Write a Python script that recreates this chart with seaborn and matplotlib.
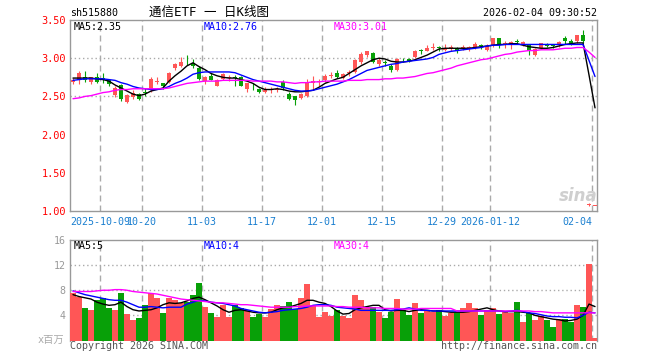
import numpy as np
import matplotlib
matplotlib.use("Agg")
import matplotlib.pyplot as plt
import seaborn as sns

# ---- values (one entry per trading day) ----
tick_days = [5, 12, 22, 32, 42, 52, 62, 70, 87]
tick_labels = ['2025-10-09', '10-20', '11-03', '11-17', '12-01',
               '12-15', '12-29', '2026-01-12', '02-04']

opens = [2.69, 2.71, 2.76, 2.69, 2.75, 2.74, 2.72, 2.52, 2.65, 2.43,
         2.49, 2.53, 2.56, 2.59, 2.69, 2.67, 2.69, 2.87, 2.90, 2.98,
         2.94, 2.87, 2.70, 2.77, 2.64, 2.73, 2.74, 2.76, 2.76, 2.60,
         2.64, 2.60, 2.56, 2.58, 2.58, 2.69, 2.53, 2.50, 2.48, 2.51,
         2.68, 2.69, 2.72, 2.77, 2.80, 2.74, 2.81, 2.82, 2.95, 3.04,
         3.07, 2.92, 2.95, 2.90, 2.84, 2.98, 2.99, 3.01, 3.11, 3.10,
         3.14, 3.14, 3.11, 3.14, 3.13, 3.13, 3.13, 3.14, 3.17, 3.11,
         3.17, 3.26, 3.17, 3.17, 3.22, 3.17, 3.17, 3.04, 3.14, 3.19,
         3.16, 3.17, 3.26, 3.22, 3.22, 3.31, 1.08, 1.07]
closes = [2.72, 2.80, 2.72, 2.75, 2.69, 2.71, 2.66, 2.61, 2.46, 2.52,
          2.54, 2.47, 2.54, 2.73, 2.70, 2.63, 2.80, 2.93, 2.95, 2.97,
          2.90, 2.73, 2.76, 2.72, 2.72, 2.79, 2.75, 2.74, 2.64, 2.67,
          2.63, 2.56, 2.59, 2.59, 2.59, 2.61, 2.47, 2.45, 2.53, 2.67,
          2.70, 2.70, 2.77, 2.78, 2.75, 2.79, 2.82, 2.97, 3.06, 3.09,
          2.95, 2.98, 2.94, 2.84, 2.99, 2.97, 2.96, 3.10, 3.10, 3.14,
          3.15, 3.13, 3.14, 3.14, 3.09, 3.14, 3.14, 3.19, 3.16, 3.16,
          3.26, 3.17, 3.20, 3.21, 3.21, 3.21, 3.09, 3.12, 3.20, 3.16,
          3.155, 3.21, 3.22, 3.19, 3.30, 3.22, 1.09, 1.07]
highs = [2.74, 2.83, 2.83, 2.76, 2.81, 2.80, 2.73, 2.63, 2.66, 2.53,
         2.58, 2.54, 2.61, 2.75, 2.75, 2.68, 2.82, 2.94, 3.02, 3.04,
         2.99, 2.90, 2.77, 2.81, 2.73, 2.81, 2.78, 2.78, 2.77, 2.68,
         2.67, 2.61, 2.62, 2.62, 2.62, 2.71, 2.56, 2.51, 2.55, 2.73,
         2.77, 2.73, 2.79, 2.82, 2.85, 2.80, 2.84, 2.99, 3.08, 3.10,
         3.08, 3.00, 2.97, 2.92, 3.00, 3.00, 3.00, 3.11, 3.12, 3.17,
         3.20, 3.16, 3.19, 3.17, 3.15, 3.17, 3.16, 3.21, 3.19, 3.19,
         3.27, 3.27, 3.22, 3.22, 3.25, 3.22, 3.18, 3.13, 3.20, 3.20,
         3.17, 3.22, 3.29, 3.25, 3.31, 3.37, 1.10, 1.07]
lows = [2.66, 2.66, 2.69, 2.66, 2.68, 2.67, 2.64, 2.49, 2.44, 2.42,
        2.47, 2.45, 2.51, 2.56, 2.66, 2.60, 2.68, 2.85, 2.88, 2.91,
        2.87, 2.72, 2.66, 2.71, 2.63, 2.71, 2.70, 2.63, 2.63, 2.56,
        2.59, 2.55, 2.55, 2.54, 2.56, 2.58, 2.45, 2.39, 2.46, 2.49,
        2.58, 2.64, 2.69, 2.74, 2.74, 2.73, 2.77, 2.80, 2.93, 3.02,
        2.94, 2.90, 2.90, 2.82, 2.83, 2.95, 2.95, 3.00, 3.06, 3.09,
        3.11, 3.09, 3.09, 3.09, 3.07, 3.11, 3.09, 3.12, 3.12, 3.09,
        3.15, 3.14, 3.14, 3.12, 3.19, 3.16, 3.04, 3.03, 3.12, 3.15,
        3.13, 3.15, 3.19, 3.17, 3.20, 3.20, 1.06, 1.07]

ma5 = [2.74, 2.74, 2.74, 2.74, 2.73, 2.72, 2.70, 2.65, 2.61, 2.57,
       2.53, 2.51, 2.53, 2.57, 2.59, 2.61, 2.70, 2.77, 2.83, 2.90,
       2.94, 2.89, 2.85, 2.80, 2.77, 2.75, 2.74, 2.74, 2.72, 2.70,
       2.67, 2.62, 2.59, 2.59, 2.60, 2.59, 2.57, 2.56, 2.56, 2.57,
       2.58, 2.62, 2.67, 2.70, 2.73, 2.75, 2.80, 2.85, 2.90, 2.94,
       2.98, 3.00, 2.99, 2.96, 2.95, 2.95, 2.96, 2.98, 3.01, 3.04,
       3.08, 3.12, 3.13, 3.13, 3.13, 3.13, 3.13, 3.14, 3.15, 3.16,
       3.17, 3.18, 3.18, 3.19, 3.19, 3.17, 3.15, 3.14, 3.13, 3.13,
       3.14, 3.16, 3.18, 3.19, 3.20, 3.20, 2.78, 2.35]
ma10 = [2.71, 2.72, 2.73, 2.73, 2.73, 2.73, 2.72, 2.71, 2.68, 2.66,
        2.63, 2.61, 2.60, 2.59, 2.59, 2.60, 2.63, 2.67, 2.70, 2.74,
        2.79, 2.81, 2.82, 2.82, 2.82, 2.82, 2.82, 2.81, 2.78, 2.75,
        2.72, 2.70, 2.68, 2.66, 2.64, 2.62, 2.60, 2.58, 2.57, 2.57,
        2.58, 2.60, 2.62, 2.64, 2.66, 2.69, 2.72, 2.76, 2.80, 2.84,
        2.86, 2.88, 2.90, 2.92, 2.93, 2.95, 2.96, 2.97, 2.98, 2.99,
        3.01, 3.05, 3.07, 3.09, 3.10, 3.11, 3.12, 3.13, 3.14, 3.16,
        3.17, 3.17, 3.18, 3.18, 3.18, 3.18, 3.18, 3.18, 3.18, 3.18,
        3.18, 3.18, 3.18, 3.18, 3.18, 3.18, 2.97, 2.76]
ma30 = [2.47, 2.48, 2.50, 2.51, 2.53, 2.55, 2.56, 2.58, 2.59, 2.59,
        2.60, 2.60, 2.60, 2.60, 2.60, 2.60, 2.61, 2.63, 2.65, 2.67,
        2.68, 2.69, 2.70, 2.70, 2.70, 2.71, 2.71, 2.71, 2.71, 2.71,
        2.70, 2.70, 2.70, 2.70, 2.69, 2.69, 2.68, 2.67, 2.68, 2.68,
        2.69, 2.69, 2.70, 2.70, 2.70, 2.70, 2.71, 2.71, 2.71, 2.72,
        2.72, 2.72, 2.73, 2.73, 2.74, 2.74, 2.75, 2.76, 2.78, 2.80,
        2.81, 2.83, 2.85, 2.87, 2.90, 2.92, 2.94, 2.96, 2.98, 2.99,
        3.01, 3.03, 3.05, 3.06, 3.08, 3.09, 3.10, 3.10, 3.11, 3.11,
        3.11, 3.12, 3.13, 3.13, 3.14, 3.14, 3.08, 3.01]

volumes = [7.6, 6.9, 5.1, 4.8, 6.4, 6.8, 5.2, 4.9, 7.6, 4.2,
           3.2, 3.6, 5.6, 7.5, 6.7, 4.3, 6.7, 6.5, 5.9, 6.1,
           7.2, 9.1, 5.4, 4.3, 3.7, 5.6, 3.8, 5.6, 5.1, 4.9,
           3.8, 4.2, 3.8, 5.0, 5.7, 5.5, 6.2, 5.0, 6.8, 9.0,
           5.5, 3.7, 4.6, 3.9, 4.8, 3.9, 3.6, 7.2, 6.4, 5.4,
           5.3, 4.6, 3.6, 4.5, 6.6, 4.8, 4.0, 6.0, 4.4, 4.8,
           4.5, 4.8, 3.9, 4.4, 4.4, 5.2, 6.0, 5.2, 4.0, 4.8,
           5.2, 4.2, 4.6, 4.4, 6.1, 3.0, 4.4, 3.2, 3.9, 3.2,
           2.1, 3.5, 3.5, 3.0, 5.6, 5.4, 12.2, 0.4]
vma5 = [7.3, 7.0, 6.8, 6.6, 6.1, 5.8, 5.6, 5.7, 6.1, 5.4,
        4.9, 4.7, 4.8, 4.9, 5.2, 5.7, 6.0, 5.9, 6.0, 6.3,
        6.7, 6.9, 6.5, 6.0, 5.5, 4.9, 4.5, 4.8, 4.9, 4.7,
        4.5, 4.4, 4.4, 4.5, 4.9, 5.2, 5.3, 5.6, 5.9, 6.4,
        6.4, 6.1, 5.9, 5.4, 4.7, 4.2, 4.3, 4.9, 5.2, 5.4,
        5.6, 5.6, 4.9, 4.7, 4.8, 4.8, 4.6, 4.8, 4.9, 4.8,
        4.7, 4.7, 4.6, 4.5, 4.5, 4.5, 4.6, 4.8, 5.0, 5.2,
        4.9, 4.7, 4.6, 4.6, 4.6, 4.5, 4.4, 4.0, 3.8, 3.6,
        3.4, 3.3, 3.1, 3.2, 3.4, 4.0, 5.8, 5.4]
vma10 = [7.9, 7.6, 7.3, 7.1, 6.9, 6.7, 6.5, 6.4, 6.4, 6.1,
         5.7, 5.3, 5.3, 5.4, 5.3, 5.2, 5.3, 5.3, 5.3, 5.8,
         6.1, 6.4, 6.3, 6.1, 6.0, 5.9, 5.7, 5.5, 5.1, 4.9,
         4.7, 4.5, 4.4, 4.5, 4.6, 4.8, 4.9, 5.0, 5.1, 5.3,
         5.6, 5.7, 5.7, 5.6, 5.3, 5.2, 5.1, 5.0, 4.8, 4.8,
         4.8, 4.8, 4.8, 4.8, 4.9, 5.0, 5.2, 5.0, 4.8, 4.8,
         4.7, 4.7, 4.7, 4.7, 4.7, 4.7, 4.7, 4.7, 4.7, 4.7,
         4.7, 4.7, 4.6, 4.7, 4.8, 4.6, 4.4, 4.3, 4.1, 3.9,
         3.8, 3.8, 3.7, 3.7, 3.6, 4.0, 4.5, 4.4]
vma30 = [7.8, 7.8, 7.8, 7.8, 7.9, 8.0, 8.0, 8.1, 8.1, 8.0,
         7.8, 7.7, 7.6, 7.5, 7.4, 7.2, 7.0, 6.8, 6.6, 6.5,
         6.4, 6.3, 6.2, 6.1, 6.0, 6.0, 5.9, 5.8, 5.7, 5.7,
         5.6, 5.5, 5.4, 5.3, 5.3, 5.3, 5.3, 5.4, 5.4, 5.5,
         5.5, 5.5, 5.5, 5.5, 5.4, 5.4, 5.3, 5.3, 5.3, 5.2,
         5.2, 5.2, 5.1, 5.1, 5.1, 5.0, 5.0, 5.0, 5.1, 5.1,
         5.1, 5.1, 5.1, 5.1, 4.7, 4.7, 4.7, 4.7, 4.7, 4.7,
         4.7, 4.7, 4.7, 4.7, 4.7, 4.7, 4.7, 4.6, 4.6, 4.5,
         4.4, 4.4, 4.4, 4.4, 4.4, 4.4, 4.4, 4.4]

RED = '#ff5656'
GREEN = '#08a008'
GRID = '#aaaaaa'
FRAME = '#999999'

sns.set_style("white")
plt.rcParams['font.family'] = ['DejaVu Sans Mono', 'Noto Sans CJK SC']
plt.rcParams['font.size'] = 7.2

W, H = 660, 360
fig = plt.figure(figsize=(6.6, 3.6), dpi=100)
ax = fig.add_axes([70 / W, 1 - 211 / H, 527 / W, 191 / H])
axv = fig.add_axes([70 / W, 1 - 340.5 / H, 527 / W, 100.5 / H])

idx = np.arange(len(opens))
o = np.array(opens)
c = np.array(closes)
cols = np.where(c >= o, RED, GREEN)

# candles
ax.vlines(idx, lows, highs, colors=cols, lw=0.8, zorder=3)
body = np.maximum(np.abs(c - o), 0.012)
ax.bar(idx, body, bottom=np.minimum(o, c), width=0.78, color=cols,
       linewidth=0, zorder=3)

# moving averages
for vals, col in [(ma5, 'black'), (ma10, '#0000ff'), (ma30, '#ff00ff')]:
    sns.lineplot(x=idx, y=vals, color=col, lw=1, ax=ax, zorder=4)
for vals, col in [(vma5, 'black'), (vma10, '#0000ff'), (vma30, '#ff00ff')]:
    sns.lineplot(x=idx, y=vals, color=col, lw=1, ax=axv, zorder=4)

# volume bars
axv.bar(idx, volumes, width=0.85, color=cols, linewidth=0, zorder=3)

for a in (ax, axv):
    a.set_xlim(-0.5, 87.33)
    for d in tick_days:
        a.axvline(d - 0.5, color=GRID, lw=1, dashes=(4.3, 2.9), zorder=1)
    for s in a.spines.values():
        s.set_color(FRAME)
        s.set_linewidth(1)
    a.tick_params(length=0)
    a.set_xlabel('')
    a.set_ylabel('')

ax.set_ylim(1.0, 3.5)
for y in [2.5, 3.0]:
    ax.axhline(y, color=GRID, lw=1, dashes=(1, 2), zorder=1)
ax.set_yticks([1.0, 1.5, 2.0, 2.5, 3.0, 3.5])
ax.set_yticklabels(['%.2f' % v for v in [1.0, 1.5, 2.0, 2.5, 3.0, 3.5]],
                   color='#ff0000', fontsize=7.4)
ax.tick_params(axis='y', pad=3)
ax.set_xticks([d - 0.5 for d in tick_days])
ax.set_xticklabels(tick_labels, color='#1a7fd0', fontsize=7.2)
ax.tick_params(axis='x', pad=4.5)
ax.get_xticklabels()[-1].set_horizontalalignment('right')

axv.set_ylim(0, 16)
for y in [4, 8, 12]:
    axv.axhline(y, color=GRID, lw=1, dashes=(1, 2), zorder=1)
axv.set_yticks([4, 8, 12, 16])
axv.set_yticklabels(['4', '8', '12', '16'], color='#999999', fontsize=7.2)
axv.tick_params(axis='y', pad=3)
axv.set_xticks([])
axv.spines['bottom'].set_visible(False)


def ftext(x, y, s, **kw):
    fig.text(x / W, 1 - y / H, s, va='center', **kw)


ftext(70, 13, 'sh515880', fontsize=7.2, color='black')
ftext(209, 12, '通信ETF 一 日K线图', fontsize=9, color='black', ha='center')
ftext(597, 13, '2026-02-04 09:30:52', fontsize=7.2, color='black', ha='right')

ftext(74, 26.5, 'MA5:%.2f' % ma5[-1], fontsize=7.2, color='black')
ftext(204, 26.5, 'MA10:%.2f' % ma10[-1], fontsize=7.2, color='#0000ff')
ftext(334, 26.5, 'MA30:%.2f' % ma30[-1], fontsize=7.2, color='#ff00ff')

ftext(74, 246, 'MA5:%d' % round(vma5[-1]), fontsize=7.2, color='black')
ftext(204, 246, 'MA10:%d' % round(vma10[-1]), fontsize=7.2, color='#0000ff')
ftext(334, 246, 'MA30:%d' % round(vma30[-1]), fontsize=7.2, color='#ff00ff')

ftext(38, 340, 'x百万', fontsize=7.4, color='#aaaaaa')
ftext(70, 346, 'Copyright 2026 SINA.COM', fontsize=7.2, color='#555555')
ftext(597, 346, 'http://finance.sina.com.cn', fontsize=7.2, color='#555555',
      ha='right')
ftext(578, 196, 'sina', fontsize=12, color='#cfcfcf', ha='center',
      style='italic', weight='bold', family='DejaVu Sans', zorder=0)

fig.savefig('out.png', dpi=100)
